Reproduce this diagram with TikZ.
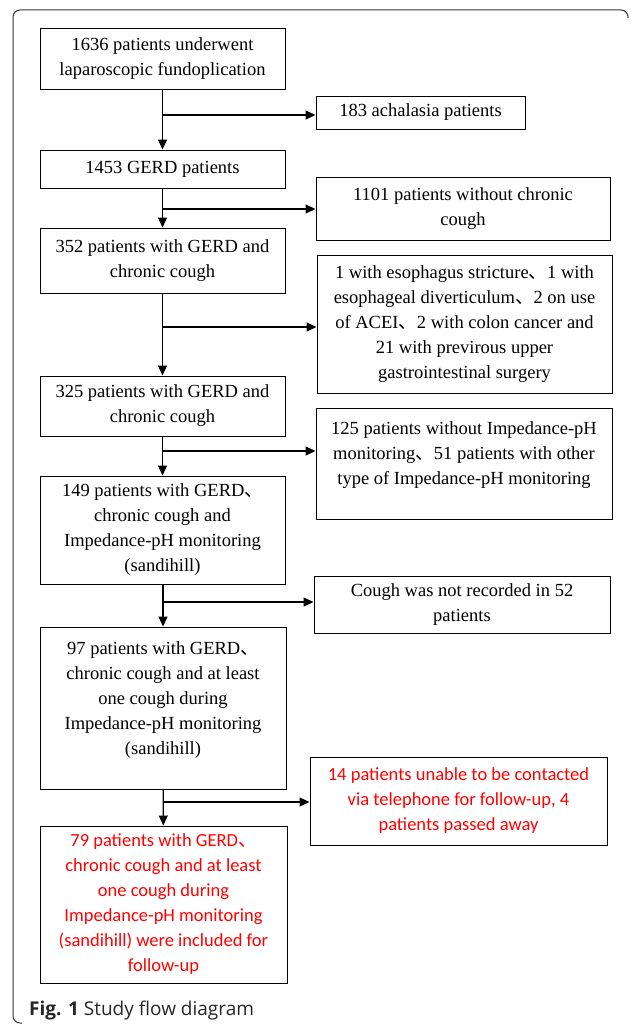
\documentclass[tikz,border=0pt]{standalone}
\usepackage{fontspec}
\setmainfont{Liberation Serif}
\newfontfamily\boxfont{Liberation Serif}
\newfontfamily\redfont{Carlito}
\newfontfamily\capfont{Open Sans}
\newfontfamily\cjk{Noto Sans CJK SC}
\usetikzlibrary{arrows.meta}
\newcommand{\dun}{{\cjk 、}}

\begin{document}
\begin{tikzpicture}[x=1pt, y=-1pt, >={Triangle[length=10pt,width=9pt]},
  flowbox/.style={draw, line width=1pt, inner sep=0pt, align=center,
    font=\boxfont\fontsize{18.5}{25}\selectfont},
  redbox/.style={flowbox, text=red, font=\redfont\fontsize{18.5}{25}\selectfont},
  link/.style={->, line width=1.1pt}]
 \useasboundingbox (0,0) rectangle (633,1025);
 % frame
 \draw [line width=1pt, black!80, rounded corners=7pt] (22,1023) -- (13,1023) -- (13,10) -- (628,10) -- (628,18);

 % main column
 \node [flowbox, minimum width=245pt, minimum height=61pt] (b1) at (162.5,59)
   {1636 patients underwent\\laparoscopic fundoplication};
 \node [flowbox, minimum width=245pt, minimum height=38pt] (b2) at (162.5,169)
   {1453 GERD patients};
 \node [flowbox, minimum width=245pt, minimum height=65pt] (b3) at (162.5,260.5)
   {352 patients with GERD and\\chronic cough};
 \node [flowbox, minimum width=245pt, minimum height=60pt] (b4) at (162.5,406)
   {325 patients with GERD and\\chronic cough};
 \node [flowbox, minimum width=245pt, minimum height=108pt] (b5) at (162.5,530)
   {149 patients with GERD\dun\\chronic cough and\\Impedance-pH monitoring\\(sandihill)};
 \node [flowbox, minimum width=246pt, minimum height=162pt] (b6) at (163,708)
   {97 patients with GERD\dun\\chronic cough and at least\\one cough during\\Impedance-pH monitoring\\(sandihill)\\[-6pt]\mbox{}};
 \node [redbox, minimum width=247pt, minimum height=157pt] (b7) at (163.5,904.5)
   {79 patients with GERD\dun\\chronic cough and at least\\one cough during\\Impedance-pH monitoring\\(sandihill) were included for\\follow-up};

 % excluded
 \node [flowbox, minimum width=209pt, minimum height=33pt] (r1) at (420.5,112.5)
   {183 achalasia patients};
 \node [flowbox, minimum width=294pt, minimum height=63pt] (r2) at (463,208.5)
   {1101 patients without chronic\\cough};
 \node [flowbox, minimum width=295pt, minimum height=138pt] (r3) at (464.5,324)
   {1 with esophagus stricture\dun1 with\\esophageal diverticulum\dun2 on use\\of ACEI\dun2 with colon cancer and\\21 with previrous upper\\gastrointestinal surgery};
 \node [flowbox, minimum width=296pt, minimum height=111pt] (r4) at (464,463.5)
   {125 patients without Impedance-pH\\monitoring\dun51 patients with other\\type of Impedance-pH monitoring\\[-4pt]\mbox{}};
 \node [flowbox, minimum width=296pt, minimum height=57pt] (r5) at (462,604.5)
   {Cough was not recorded in 52\\patients};
 \node [redbox, minimum width=297pt, minimum height=88pt] (r6) at (458.5,801)
   {14 patients unable to be contacted\\via telephone for follow-up, 4\\patients passed away};

 % junctions
 \coordinate (j1) at (162.5,115);
 \coordinate (j2) at (162.5,209);
 \coordinate (j3) at (162.5,327);
 \coordinate (j4) at (162.5,451);
 \coordinate (j5) at (162.5,602);
 \coordinate (j6) at (162.5,802);

 \draw [link] (b1) -- (b2);
 \draw [link] (b2) -- (b3);
 \draw [link] (b3) -- (b4);
 \draw [link] (b4) -- (b5);
 \draw [link] (b5) -- (b6 |- b5.south) -- (b6);
 \draw [link] (b6) -- (b7);

 \draw [link] (j1) -- (j1 -| r1.west);
 \draw [link] (j2) -- (j2 -| r2.west);
 \draw [link] (j3) -- (j3 -| r3.west);
 \draw [link] (j4) -- (j4 -| r4.west);
 \draw [link] (j5) -- (j5 -| r5.west);
 \draw [link] (j6) -- (j6 -| r6.west);

 % caption
 \node [anchor=base west, inner sep=0pt, text=black!85,
   font=\capfont\fontsize{19}{23}\selectfont] (cap) at (29,1015)
   {\textbf{Fig. 1} Study flow diagram};
\end{tikzpicture}
\end{document}
